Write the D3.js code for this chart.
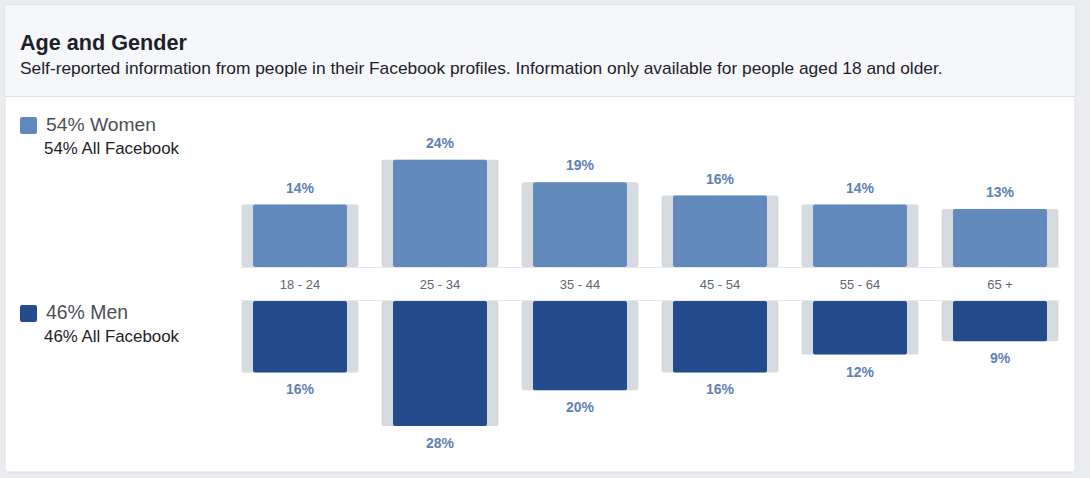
<!DOCTYPE html>
<html>
<head>
<meta charset="utf-8">
<script src="https://cdn.jsdelivr.net/npm/d3@7"></script>
<style>
  body { margin: 0; background: #eaecef; }
  text { font-family: "Liberation Sans", Arial, Helvetica, sans-serif; }
</style>
</head>
<body>
<div id="container"></div>
<script>
// Datos
const ages = ["18 - 24", "25 - 34", "35 - 44", "45 - 54", "55 - 64", "65 +"];
const women = [14, 24, 19, 16, 14, 13];
const men = [16, 28, 20, 16, 12, 9];
// barras grises: referencia "All Facebook"
const womenAllFb = [14, 24, 19, 16, 14, 13];
const menAllFb = [16, 28, 20, 16, 12, 9];
const legendLabels = ["54% Women", "46% Men"];
const legendSub = ["54% All Facebook", "46% All Facebook"];

const WIDTH = 1090,
      HEIGHT = 478;

const svg = d3.select('#container').append('svg')
    .attr("width", WIDTH).attr("height", HEIGHT);

// ajusta el tamano de fuente para que el texto mida "w" pixeles
const fit = (sel, w) => {
    const fs = parseFloat(sel.attr("font-size"));
    const len = sel.node().getComputedTextLength();
    sel.attr("font-size", fs * w / len);
};

// tarjeta
svg.append("rect").attr("x", 5).attr("y", 5).attr("width", 1070).attr("height", 467)
    .attr("fill", "#fff").attr("stroke", "#dddfe2");
svg.append("rect").attr("x", 5.5).attr("y", 5.5).attr("width", 1069).attr("height", 91)
    .attr("fill", "#f5f7fa");
svg.append("line").attr("x1", 5).attr("x2", 1075).attr("y1", 96.5).attr("y2", 96.5)
    .attr("stroke", "#dddfe2");

const title = svg.append("text").attr("x", 20).attr("y", 50)
    .attr("font-size", 20).attr("font-weight", "bold").attr("fill", "#1d2129")
    .text("Age and Gender");
fit(title, 167);

const sub = svg.append("text").attr("x", 20).attr("y", 74)
    .attr("font-size", 14).attr("fill", "#1d2129")
    .text("Self-reported information from people in their Facebook profiles. Information only available for people aged 18 and older.");
fit(sub, 923);

// escalas
const xScale = d3.scaleBand()
    .domain(ages)
    .range([230, 1070])
    .paddingInner(0.165)
    .paddingOuter(0.0825);

const yScale = d3.scaleLinear()
    .domain([0, 28])
    .range([0, 125]);

const base = 267,
      menTop = 301;
const inner = 94;
const cWomen = "#6189bb",
      cMen = "#244c8c",
      cGrey = "#d6dbe0",
      cLabel = "#5f80b5";

// leyenda
const legColors = [cWomen, cMen];
const legY = [117, 305];
legendLabels.forEach((lab, i) => {
    svg.append("rect").attr("x", 20).attr("y", legY[i]).attr("width", 17).attr("height", 17)
        .attr("rx", 2).attr("fill", legColors[i]);
    const t = svg.append("text").attr("x", 46).attr("y", legY[i] + 14)
        .attr("font-size", 16).attr("fill", "#4b4f56").text(lab);
    fit(t, i === 0 ? 110 : 82);
    const s = svg.append("text").attr("x", 44).attr("y", legY[i] + 37)
        .attr("font-size", 13).attr("fill", "#1d2129").attr("font-weight", 500).text(legendSub[i]);
    fit(s, 135);
});

// lineas de la banda central
[base + 0.5, menTop - 0.5].forEach(y => {
    svg.append("line").attr("x1", 240).attr("x2", 1060).attr("y1", y).attr("y2", y)
        .attr("stroke", "#e6e8eb");
});

// barras grises
svg.append("g").selectAll("rect").data(ages).join("rect")
    .attr("x", d => xScale(d))
    .attr("width", xScale.bandwidth())
    .attr("y", (d, i) => base - yScale(womenAllFb[i]))
    .attr("height", (d, i) => yScale(womenAllFb[i]))
    .attr("rx", 2).attr("fill", cGrey);
svg.append("g").selectAll("rect").data(ages).join("rect")
    .attr("x", d => xScale(d))
    .attr("width", xScale.bandwidth())
    .attr("y", menTop)
    .attr("height", (d, i) => yScale(menAllFb[i]))
    .attr("rx", 2).attr("fill", cGrey);

// barras de color
const cx = d => xScale(d) + xScale.bandwidth() / 2;
svg.append("g").selectAll("rect").data(ages).join("rect")
    .attr("x", d => cx(d) - inner / 2)
    .attr("width", inner)
    .attr("y", (d, i) => base - yScale(women[i]))
    .attr("height", (d, i) => yScale(women[i]))
    .attr("rx", 2).attr("fill", cWomen);
svg.append("g").selectAll("rect").data(ages).join("rect")
    .attr("x", d => cx(d) - inner / 2)
    .attr("width", inner)
    .attr("y", menTop)
    .attr("height", (d, i) => yScale(men[i]))
    .attr("rx", 2).attr("fill", cMen);

// etiquetas de valores
svg.append("g").selectAll("text").data(ages).join("text")
    .attr("x", cx)
    .attr("y", (d, i) => base - yScale(women[i]) - 12)
    .attr("text-anchor", "middle").attr("font-size", 14).attr("font-weight", "bold")
    .attr("fill", cLabel)
    .text((d, i) => women[i] + "%");
svg.append("g").selectAll("text").data(ages).join("text")
    .attr("x", cx)
    .attr("y", (d, i) => menTop + yScale(men[i]) + 22)
    .attr("text-anchor", "middle").attr("font-size", 14).attr("font-weight", "bold")
    .attr("fill", cLabel)
    .text((d, i) => men[i] + "%");

// categorias
svg.append("g").selectAll("text").data(ages).join("text")
    .attr("x", cx)
    .attr("y", 289)
    .attr("text-anchor", "middle").attr("font-size", 13)
    .attr("fill", "#606770")
    .text(d => d);
</script>
</body>
</html>
